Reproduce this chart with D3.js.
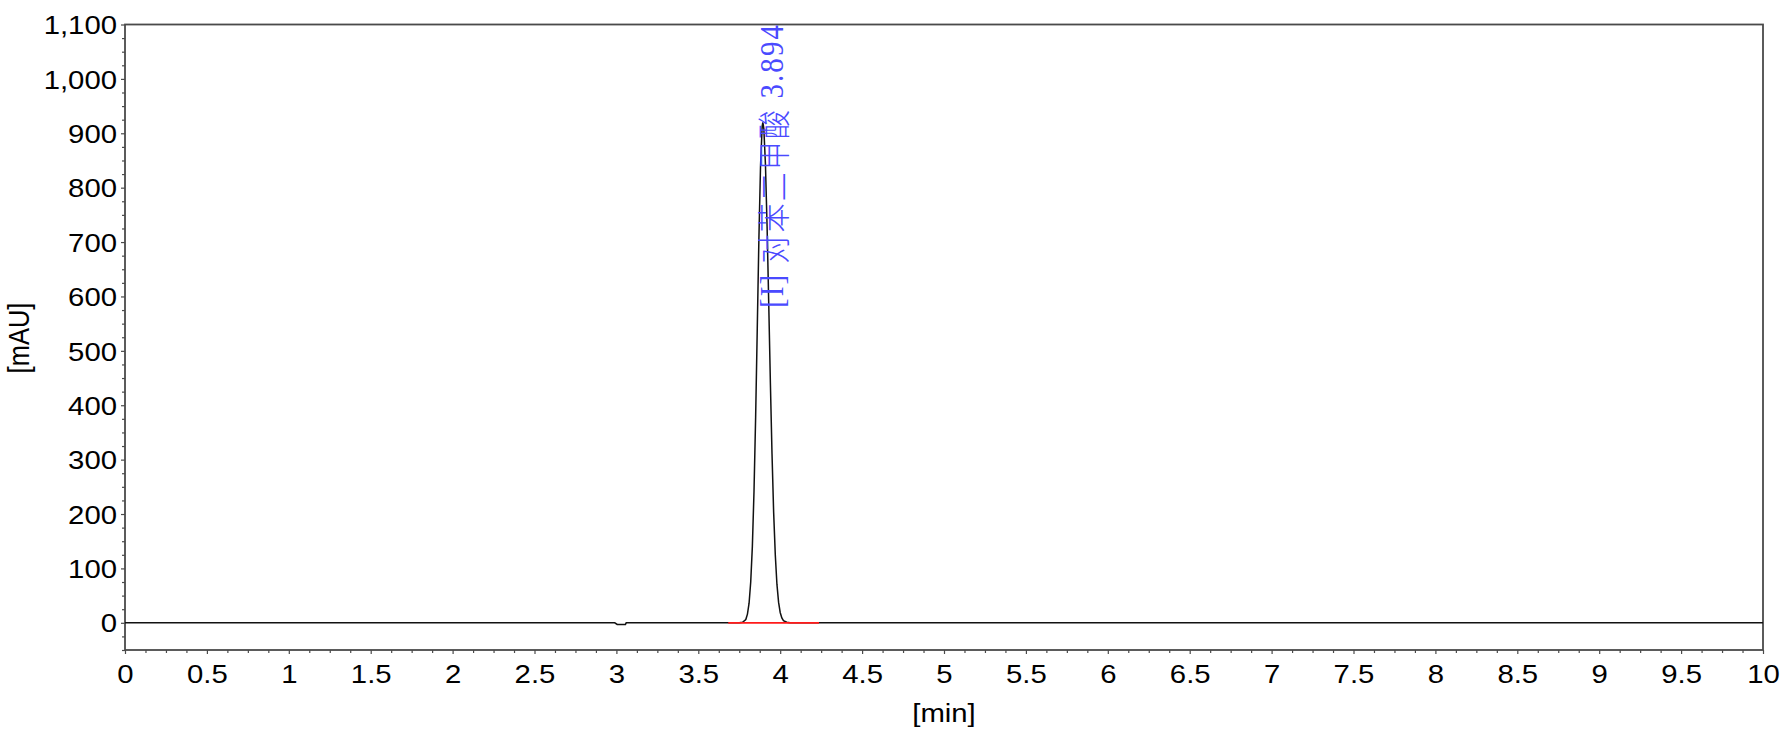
<!DOCTYPE html>
<html>
<head>
<meta charset="utf-8">
<script src="https://cdn.jsdelivr.net/npm/d3@7"></script>
<style>
  html, body { margin: 0; padding: 0; background: #fff; }
  svg { display: block; }
</style>
</head>
<body>
<svg id="chart" width="1791" height="739"></svg>
<script>
// ---- data ----
const timeDomain = [0, 10];            // [min]
const signalDomain = [-50, 1100];      // [mAU]
const xTickValues = [0,0.5,1,1.5,2,2.5,3,3.5,4,4.5,5,5.5,6,6.5,7,7.5,8,8.5,9,9.5,10];
const yTickValues = [0,100,200,300,400,500,600,700,800,900,1000,1100];
const traceTime = [0, 2.99, 3.005, 3.055, 3.06, 3.70, 3.75, 3.77, 3.79, 3.80, 3.81, 3.82, 3.83, 3.84, 3.85,
  3.86, 3.87, 3.88, 3.89, 3.894, 3.90, 3.91, 3.92, 3.93, 3.94, 3.95, 3.96, 3.97, 3.98, 3.99,
  4.00, 4.01, 4.02, 4.04, 4.06, 10];
const traceSignal = [0, 0, -3, -3, 0, 0, 0, 1, 6, 16, 36, 75, 140, 241, 378,
  541, 707, 841, 913, 920, 909, 842, 728, 587, 442, 311, 203, 125, 71, 38,
  19, 9, 4, 1, 0, 0];
const baselineStart = [3.683, 0];
const baselineEnd = [4.237, 0];
const peakTag = "[I]";
const peakName = "对苯二甲酸";
const peakRT = "3.894";
const xLabel = "[min]";
const yLabel = "[mAU]";

// ---- layout ----
const W = 1791, H = 739;
const plotLeft = 125, plotRight = 1763, plotTop = 24.5, plotBottom = 650;
const SX = 1.15; // horizontal stretch of the reference image
const svg = d3.select("#chart");

const x = d3.scaleLinear().domain(timeDomain).range([plotLeft, plotRight]);
const y = d3.scaleLinear().domain(signalDomain).range([plotBottom, plotTop]);

const axisColor = "#4a4a4a";
const fontLatin = "'Liberation Sans', Arial, sans-serif";

// minor ticks
const xMinor = d3.range(0, 10.0001, 0.125).filter(v => Math.abs(v*2 - Math.round(v*2)) > 1e-6);
const yMinor = d3.range(-50, 1100.0001, 25).filter(v => v % 100 !== 0);

svg.append("g")
  .attr("transform", `translate(0,${plotBottom})`)
  .call(d3.axisBottom(x).tickValues(xMinor).tickSize(3).tickFormat(""))
  .call(g => g.select(".domain").remove())
  .call(g => g.selectAll("line").attr("stroke", axisColor).attr("stroke-width", 1.2));

svg.append("g")
  .attr("transform", `translate(${plotLeft},0)`)
  .call(d3.axisLeft(y).tickValues(yMinor).tickSize(3).tickFormat(""))
  .call(g => g.select(".domain").remove())
  .call(g => g.selectAll("line").attr("stroke", axisColor).attr("stroke-width", 1.2));

// major x axis
const gx = svg.append("g")
  .attr("transform", `translate(0,${plotBottom})`)
  .call(d3.axisBottom(x).tickValues(xTickValues).tickSize(4).tickPadding(9)
        .tickFormat(d => d3.format("")(d)));
gx.select(".domain").remove();
gx.selectAll("line").attr("stroke", axisColor).attr("stroke-width", 1.2);
gx.selectAll("text")
  .attr("fill", "#000")
  .style("font-family", fontLatin)
  .style("font-size", "25.5px")
  .attr("dy", null)
  .attr("y", 0)
  .attr("transform", `translate(0,33) scale(${SX},1)`);

// major y axis
const gy = svg.append("g")
  .attr("transform", `translate(${plotLeft},0)`)
  .call(d3.axisLeft(y).tickValues(yTickValues).tickSize(4).tickFormat(d3.format(",")));
gy.select(".domain").remove();
gy.selectAll("line").attr("stroke", axisColor).attr("stroke-width", 1.2);
gy.selectAll("text")
  .attr("fill", "#000")
  .style("font-family", fontLatin)
  .style("font-size", "25.5px")
  .attr("x", 0)
  .attr("dy", "0.36em")
  .attr("transform", `translate(-8,0) scale(${SX},1)`);

// frame
svg.append("rect")
  .attr("x", plotLeft).attr("y", plotTop)
  .attr("width", plotRight - plotLeft).attr("height", plotBottom - plotTop)
  .attr("fill", "none").attr("stroke", axisColor).attr("stroke-width", 1.8);

// trace
const pts = traceTime.map((t, i) => [t, traceSignal[i]]);
svg.append("path")
  .datum(pts)
  .attr("fill", "none")
  .attr("stroke", "#111")
  .attr("stroke-width", 1.5)
  .attr("d", d3.line().x(d => x(d[0])).y(d => y(d[1])));

// integration baseline
svg.append("line")
  .attr("x1", x(baselineStart[0])).attr("y1", y(baselineStart[1]))
  .attr("x2", x(baselineEnd[0])).attr("y2", y(baselineEnd[1]))
  .attr("stroke", "#ff1a1a").attr("stroke-width", 1.8);

// peak label (rotated)
const lbl = svg.append("text")
  .attr("transform", `translate(${x(+peakRT) + 8.5},308) scale(${SX},1) rotate(-90)`)
  .attr("dominant-baseline", "central")
  .attr("fill", "#4a4aff")
  .style("font-size", "29px")
  .attr("textLength", 283)
  .attr("lengthAdjust", "spacing");
lbl.append("tspan").style("font-family", "'Liberation Serif', serif").text(peakTag + " ");
lbl.append("tspan").style("font-family", "'Noto Sans CJK SC', sans-serif").style("font-weight", 300).text(peakName);
lbl.append("tspan").style("font-family", "'Liberation Serif', serif").text(" " + peakRT);

// axis titles
svg.append("text")
  .attr("transform", `translate(${x(5)},722) scale(${SX},1)`)
  .attr("text-anchor", "middle")
  .style("font-family", fontLatin)
  .style("font-size", "25.5px")
  .attr("fill", "#000")
  .text(xLabel);

svg.append("text")
  .attr("transform", `translate(29,338) scale(${SX},1) rotate(-90)`)
  .attr("text-anchor", "middle")
  .style("font-family", fontLatin)
  .style("font-size", "25.5px")
  .attr("fill", "#000")
  .text(yLabel);
</script>
</body>
</html>
